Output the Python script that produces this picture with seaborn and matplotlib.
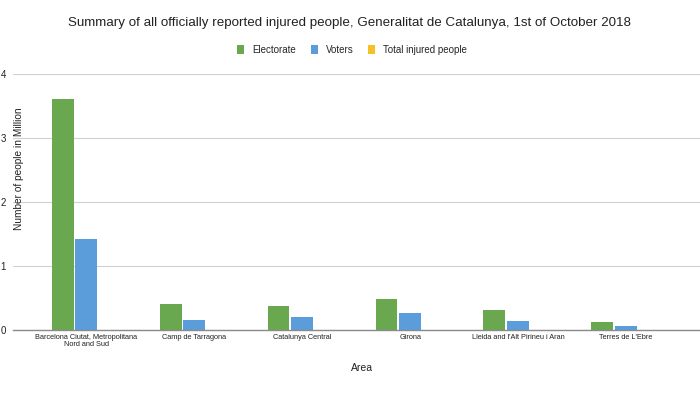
import pandas as pd
import matplotlib
matplotlib.use("Agg")
import matplotlib.pyplot as plt
import seaborn as sns

# valores (milhões de pessoas)
areas = [
    "Barcelona Ciutat, Metropolitana\nNord and Sud",
    "Camp de Tarragona",
    "Catalunya Central",
    "Girona",
    "Lleida and l'Alt Pirineu i Aran",
    "Terres de L'Ebre",
]
electorate = [3.61, 0.41, 0.375, 0.48, 0.31, 0.125]
voters = [1.42, 0.15, 0.21, 0.26, 0.145, 0.058]
injured = [0.0005, 0.0001, 0.00015, 0.0002, 0.00008, 0.00003]

series = ["Electorate", "Voters", "Total injured people"]
cores = ["#6aa84f", "#5b9ddb", "#f6c026"]

df = pd.DataFrame({
    "Area": areas * 3,
    "valor": electorate + voters + injured,
    "serie": [s for s in series for _ in areas],
})

sns.set_style("white")
plt.rcParams["font.family"] = ["Liberation Sans", "DejaVu Sans"]

fig = plt.figure(figsize=(7, 3.94), dpi=100)
ax = fig.add_axes([13 / 700, 1 - 330 / 394, 1 - 13 / 700, (330 - 74) / 394])

sns.barplot(data=df, x="Area", y="valor", hue="serie", hue_order=series,
            palette=cores, width=0.66, gap=0.08, ax=ax, saturation=1,
            edgecolor="none", legend=True)

ax.set_ylim(0, 4)
ax.set_xlim(-0.68, 5.685)
ax.set_yticks([0, 1, 2, 3, 4])
ax.yaxis.grid(True, color="#d0d0d0", linewidth=0.8)
ax.set_axisbelow(True)
for lado in ["top", "right", "left"]:
    ax.spines[lado].set_visible(False)
ax.spines["bottom"].set_color("#8a8a8a")
ax.spines["bottom"].set_linewidth(1)
ax.tick_params(axis="both", length=0)
ax.tick_params(axis="y", labelsize=7, pad=5, labelcolor="#222222")
ax.tick_params(axis="x", labelsize=5.3, pad=3, labelcolor="#222222")
for t in ax.get_xticklabels():
    t.set_linespacing(1.0)

ax.set_xlabel("")
ax.set_ylabel("")
fig.text(362 / 700, 1 - 368 / 394, "Area", ha="center", va="center", fontsize=7.5, color="#222222")
fig.text(19 / 700, 1 - 169 / 394, "Number of people in Million", rotation=90,
         ha="center", va="center", fontsize=7.3, color="#222222")
fig.text(350 / 700, 1 - 23 / 394,
         "Summary of all officially reported injured people, Generalitat de Catalunya, 1st of October 2018",
         ha="center", va="center", fontsize=9.6, color="#222222")

ax.legend(loc="center", bbox_to_anchor=(352 / 700, 1 - 50 / 394), bbox_transform=fig.transFigure,
          ncol=3, frameon=False, fontsize=7, handlelength=0.75, handleheight=1.0,
          handletextpad=0.8, columnspacing=1.5, title=None)

plt.savefig("out.png", dpi=100)
